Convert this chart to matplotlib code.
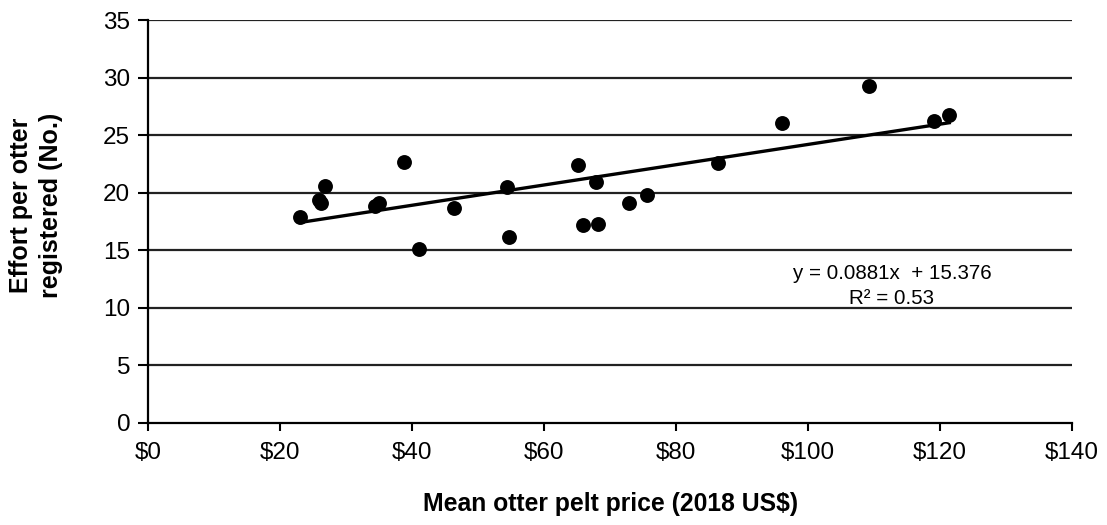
import matplotlib
matplotlib.use("Agg")
import matplotlib.pyplot as plt
import numpy as np

plt.rcParams['font.family'] = ['Liberation Sans', 'DejaVu Sans']

price = [23.0, 25.9, 26.2, 26.8, 34.4, 35.0, 38.7, 41.1, 46.3, 54.3, 54.6,
         65.1, 65.9, 67.8, 68.1, 72.9, 75.6, 86.3, 96.0, 109.2, 119.1, 121.4]
effort = [17.86, 19.37, 19.08, 20.6, 18.87, 19.08, 22.7, 15.08, 18.7, 20.5, 16.17,
          22.4, 17.17, 20.9, 17.3, 19.1, 19.83, 22.55, 26.09, 29.28, 26.23, 26.76]
slope = 0.0881
intercept = 15.376
r2 = 0.53
x_ticks = [0, 20, 40, 60, 80, 100, 120, 140]
y_ticks = [0, 5, 10, 15, 20, 25, 30, 35]

fig = plt.figure(figsize=(11.07, 5.25), dpi=100)
ax = fig.add_axes([148.3/1107, 1 - 422.7/525, (1072-148.3)/1107, (422.7-20)/525])

for yv in y_ticks[1:]:
    ax.axhline(yv, color='#222222', lw=1.6, zorder=1)

ax.scatter(price, effort, s=115, color='black', zorder=3, linewidths=0)
xl = np.array([min(price), max(price)])
ax.plot(xl, slope * xl + intercept, color='black', lw=2.4, zorder=2)

ax.text(112.7, 13.0, f"y = {slope}x  + {intercept}", ha='center', va='center', fontsize=14.8)
ax.text(112.7, 10.8, f"R² = {r2}", ha='center', va='center', fontsize=14.8)

ax.set_xlim(0, 140)
ax.set_ylim(0, 35)
ax.set_xticks(x_ticks)
ax.set_xticklabels([f"${v}" for v in x_ticks])
ax.set_yticks(y_ticks)
ax.tick_params(axis='both', labelsize=17.5, width=1.5, length=7, color='black', direction='out')
ax.tick_params(axis='x', pad=8, length=6)
ax.tick_params(axis='y', pad=6)
for s in ['top', 'right']:
    ax.spines[s].set_visible(False)
for s in ['left', 'bottom']:
    ax.spines[s].set_linewidth(1.6)
    ax.spines[s].set_color('black')

ax.set_xlabel("Mean otter pelt price (2018 US$)", fontsize=17.8, fontweight='bold')
ax.xaxis.set_label_coords(0.5, -(504 - 422.7) / (422.7 - 20), transform=ax.transAxes)
ax.xaxis.label.set_va('center')
ax.set_ylabel("Effort per otter\nregistered (No.)", fontsize=18, fontweight='bold',
              ha='center', va='center', linespacing=1.3)
ax.yaxis.set_label_coords((36 - 148.3) / (1072 - 148.3), (422.7 - 205) / (422.7 - 20),
                          transform=ax.transAxes)

fig.savefig("out.png", dpi=100)
